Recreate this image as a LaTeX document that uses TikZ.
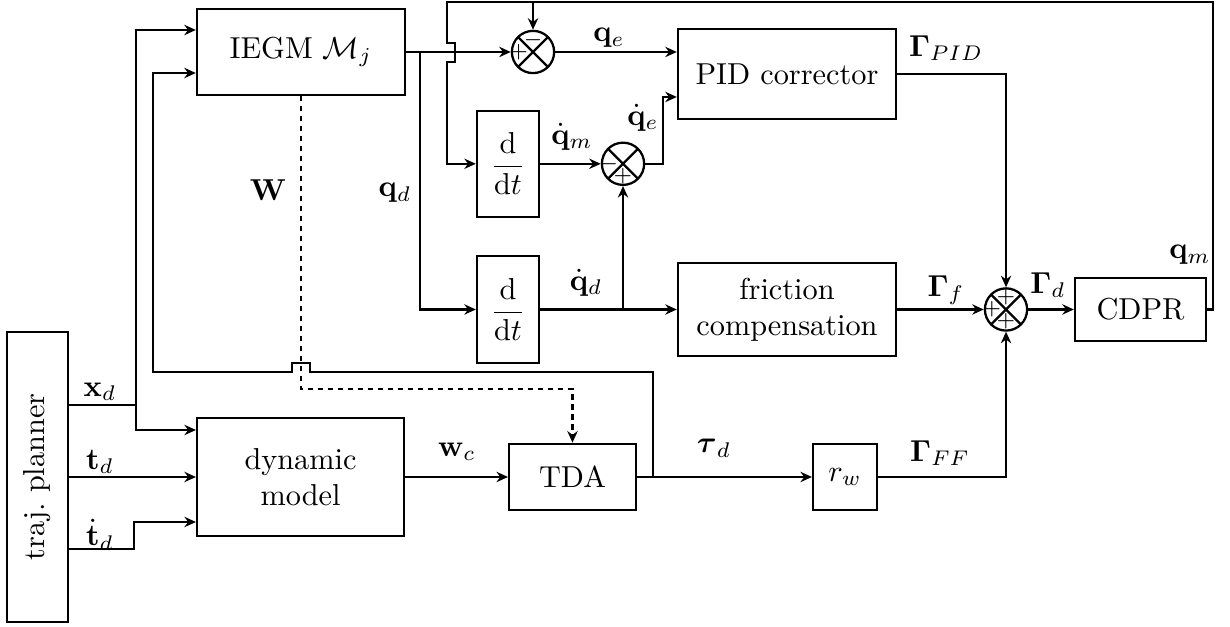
\documentclass[tikz,border=0pt]{standalone}
\usepackage{amsmath,amssymb}
\usepackage{graphicx}
\usetikzlibrary{arrows.meta,calc}

\begin{document}
\begin{tikzpicture}[line width=0.75pt,>={Stealth[length=3.8pt,width=3.4pt]},
    block/.style={draw,align=center,inner sep=2pt},
    sum/.style={draw,circle,minimum size=0.49cm,inner sep=0pt,
      path picture={\draw (path picture bounding box.north west)--(path picture bounding box.south east)
        (path picture bounding box.north east)--(path picture bounding box.south west);}},
    sgn/.style={font=\scriptsize,inner sep=0pt},
    wdash/.style={dash pattern=on 1.7pt off 1.6pt}]
    \useasboundingbox (0,0) rectangle (14.268,-7.262);
    % blocks
    \node[block,minimum width=0.70cm,minimum height=3.36cm] (planner) at (0.435,-5.533) {\rotatebox{90}{traj.\ planner}};
    \node[block,minimum width=2.41cm,minimum height=1cm] (iegm) at (3.49,-0.603) {IEGM $\mathcal{M}_j$};
    \node[block,minimum width=2.40cm,minimum height=1.37cm] (dyn) at (3.486,-5.533) {dynamic\\model};
    \node[block,minimum width=1.47cm,minimum height=0.77cm] (tda) at (6.641,-5.533) {TDA};
    \node[block,minimum width=0.74cm,minimum height=0.77cm] (rw) at (9.802,-5.533) {$r_w$};
    \node[block,minimum width=0.72cm,minimum height=1.23cm] (ddtA) at (5.893,-1.90) {$\dfrac{\mathrm{d}}{\mathrm{d}t}$};
    \node[block,minimum width=0.72cm,minimum height=1.24cm] (ddtB) at (5.893,-3.59) {$\dfrac{\mathrm{d}}{\mathrm{d}t}$};
    \node[block,minimum width=2.53cm,minimum height=1.04cm] (pid) at (9.129,-0.858) {PID corrector};
    \node[block,minimum width=2.53cm,minimum height=1.08cm] (fric) at (9.129,-3.59) {friction\\compensation};
    \node[block,minimum width=1.52cm,minimum height=0.73cm] (cdpr) at (13.23,-3.59) {CDPR};
    % summing junctions
    \node[sum] (sumE) at (6.183,-0.603) {};
    \node[sum] (sumV) at (7.227,-1.90) {};
    \node[sum] (sumT) at (11.67,-3.59) {};
    \node[sgn] (sEl) at ($(sumE)+(-0.165,0)$) {$+$};
    \node[sgn] (sEt) at ($(sumE)+(0,0.14)$) {$-$};
    \node[sgn] (sVl) at ($(sumV)+(-0.165,0)$) {$-$};
    \node[sgn] (sVb) at ($(sumV)+(0,-0.14)$) {$+$};
    \node[sgn] (sTl) at ($(sumT)+(-0.165,0)$) {$+$};
    \node[sgn] (sTt) at ($(sumT)+(0,0.14)$) {$+$};
    \node[sgn] (sTb) at ($(sumT)+(0,-0.14)$) {$+$};
    % planner outputs
    \coordinate (xd) at ($(planner.east)+(0,0.835)$);
    \coordinate (tdd) at ($(planner.east)+(0,-0.835)$);
    \coordinate (jx) at (1.578,-4.698);
    \draw (xd) -- (jx);
    \draw[->] (jx) |- ($(iegm.west)+(0,0.255)$);
    \draw[->] (jx) |- ($(dyn.west)+(0,0.545)$);
    \draw[->] (planner.east) -- (dyn.west);
    \draw[->] (tdd) -- ++(0.756,0) |- ($(dyn.west)+(0,-0.522)$);
    \node (lxd) at (1.16,-4.547) {$\mathbf{x}_d$};
    \node (ltd) at (1.16,-5.359) {$\mathbf{t}_d$};
    \node (ltdd) at (1.16,-6.206) {$\dot{\mathbf{t}}_d$};
    % feedforward chain
    \draw[->] (dyn) -- (tda);
    \draw[->] (tda) -- (rw);
    \draw[->] (rw) -| (sumT);
    \coordinate (jt) at (7.575,-5.533);
    \draw[->] (jt) -- (7.575,-4.315) -- (3.596,-4.315) -- (3.596,-4.211) -- (3.388,-4.211)
      -- (3.388,-4.315) -- (1.775,-4.315) |- ($(iegm.west)+(0,-0.244)$);
    \draw[->,wdash] (iegm.south) -- ++(0,-3.40) -| (tda.north);
    \node (lW) at (3.109,-2.204) {$\mathbf{W}$};
    \node (lwc) at (5.301,-5.243) {$\mathbf{w}_c$};
    \node (ltau) at (8.282,-5.197) {$\boldsymbol{\tau}_d$};
    \node (lGff) at (10.904,-5.255) {$\mathbf{\Gamma}_{FF}$};
    % joint space loop
    \draw[->] (iegm) -- (sumE);
    \coordinate (jq) at (4.872,-0.603);
    \draw[->] (jq) |- (ddtB);
    \draw[->] (sumE) -- (sumE -| pid.west);
    \draw[->] (ddtA) -- (sumV);
    \draw[->] (sumV) -- ++(0.46,0) |- ($(pid.west)+(0,-0.267)$);
    \draw[->] (ddtB) -- (fric);
    \draw[->] (sumV |- ddtB) -- (sumV);
    \draw[->] (fric) -- (sumT);
    \draw[->] (pid) -| (sumT);
    \draw[->] (sumT) -- (cdpr);
    \coordinate (fbr) at (14.07,-0.023);
    \coordinate (fbl) at (5.185,-0.023);
    \draw[->] (cdpr) -| (fbr) -- (fbl) -- (5.185,-0.499) -- (5.278,-0.499) -- (5.278,-0.719)
      -- (5.185,-0.719) |- (ddtA);
    \draw[->] (sumE |- fbr) -- (sumE);
    \node (lqd) at (4.582,-2.239) {$\mathbf{q}_d$};
    \node (lqe) at (7.064,-0.441) {$\mathbf{q}_e$};
    \node (ldqm) at (6.635,-1.589) {$\dot{\mathbf{q}}_m$};
    \node (ldqe) at (7.459,-1.369) {$\dot{\mathbf{q}}_e$};
    \node (ldqd) at (6.798,-3.283) {$\dot{\mathbf{q}}_d$};
    \node (lGpid) at (10.974,-0.557) {$\mathbf{\Gamma}_{PID}$};
    \node (lGf) at (10.974,-3.364) {$\mathbf{\Gamma}_f$};
    \node (lGd) at (12.157,-3.306) {$\mathbf{\Gamma}_d$};
    \node (lqm) at (13.804,-2.958) {$\mathbf{q}_m$};
  \end{tikzpicture}
\end{document}
